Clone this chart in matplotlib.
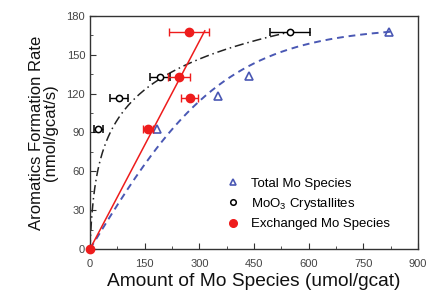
import matplotlib
matplotlib.use("Agg")
import matplotlib.pyplot as plt
import numpy as np

plt.rcParams['font.family'] = ['Liberation Sans', 'DejaVu Sans']
plt.rcParams['mathtext.fontset'] = 'custom'
plt.rcParams['mathtext.rm'] = 'Liberation Sans'
plt.rcParams['mathtext.it'] = 'Liberation Sans'

# data
total_x = [183, 352, 437, 821]
total_y = [93, 118, 134, 168]

moo3_x = [23, 80, 192, 549]
moo3_y = [92.5, 117, 133, 168]
moo3_xerr = [12, 25, 27, 54]

exch_x = [0, 160, 274, 245, 272]
exch_y = [0, 92.5, 117, 133, 168]
exch_xerr = [0, 14, 23, 30, 54]

# fitted curves (parameters)
total_fit = (172, 375, 830)     # A*tanh(x/k), up to xmax
moo3_fit = (35, 4.6, 560)       # b*ln(1+x/c), up to xmax
exch_fit = (0.535, 315)         # slope, xmax

blue = '#4a58b4'
red = '#ee1c1c'

fig = plt.figure(figsize=(4.31, 2.95), dpi=100)
ax = fig.add_axes([0.2088, 0.1559, 0.761, 0.7899])

xb = np.linspace(0, total_fit[2], 200)
ax.plot(xb, total_fit[0] * np.tanh(xb / total_fit[1]), '--', color=blue, lw=1.4, dashes=(3.5, 2.5))
xk = np.linspace(0, moo3_fit[2], 300)
ax.plot(xk, moo3_fit[0] * np.log(1 + xk / moo3_fit[1]), color='#222222', lw=1.1, dashes=(6, 2.5, 1, 2.5))
xr = np.array([0, exch_fit[1]])
ax.plot(xr, exch_fit[0] * xr, color=red, lw=1.1)

ax.plot(total_x, total_y, '^', ms=6, mfc='none', mec=blue, mew=1.2, linestyle='none')
ax.errorbar(moo3_x, moo3_y, xerr=moo3_xerr, fmt='o', ms=4.5, mfc='white', mec='black',
            mew=1.1, ecolor='black', elinewidth=1, capsize=3)
ax.errorbar(exch_x, exch_y, xerr=exch_xerr, fmt='o', ms=6, color=red, ecolor=red,
            elinewidth=1, capsize=3, clip_on=False, zorder=5)

ax.set_xlim(0, 900)
ax.set_ylim(0, 180)
ax.set_xticks(np.arange(0, 901, 150))
ax.set_yticks(np.arange(0, 181, 30))
ax.set_xticks(np.arange(75, 900, 150), minor=True)
ax.set_yticks(np.arange(15, 180, 30), minor=True)
ax.tick_params(which='both', direction='in', colors='#333333', labelsize=8, labelcolor='#444444')
ax.tick_params(which='major', length=4)
ax.tick_params(which='minor', length=2.5)
ax.tick_params(axis='x', pad=7)
for s in ax.spines.values():
    s.set_color('#333333')
    s.set_linewidth(1)

ax.set_xlabel('Amount of Mo Species (umol/gcat)', fontsize=13.8, color='#111111', labelpad=3)
ax.set_ylabel('Aromatics Formation Rate\n(nmol/gcat/s)', fontsize=12, color='#111111',
              linespacing=0.95, labelpad=6)

h1 = ax.plot([], [], '^', ms=5, mfc='none', mec=blue, mew=1.2, linestyle='none')[0]
h2 = ax.plot([], [], 'o', ms=4, mfc='white', mec='black', mew=1.1, linestyle='none')[0]
h3 = ax.plot([], [], 'o', ms=5.5, color=red, linestyle='none')[0]
ax.legend([h1, h2, h3], ['Total Mo Species', 'MoO$_3$ Crystallites', 'Exchanged Mo Species'],
          loc='lower left', bbox_to_anchor=(0.375, 0.03), frameon=False, fontsize=9.5,
          handletextpad=0.8, labelspacing=0.45, handlelength=1.2)

fig.savefig('out.png', dpi=100)
